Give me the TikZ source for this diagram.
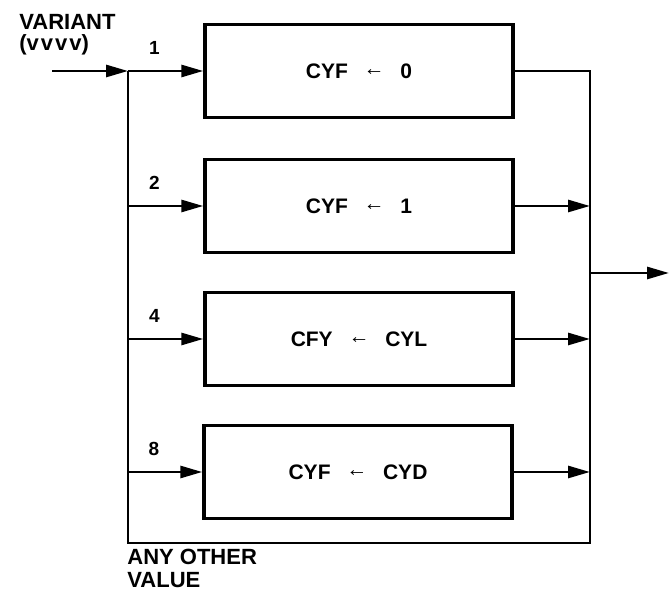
\documentclass[tikz,border=0pt]{standalone}
\usepackage{fontspec}
\setmainfont{Liberation Sans}
\usetikzlibrary{arrows.meta}
\newcommand{\cyGets}{\hspace{0.75em}\raisebox{0.12em}{←}\hspace{0.75em}}
\begin{document}
\begin{tikzpicture}[
    x=0.5pt,y=-0.5pt,
    cyBox/.style={rectangle,draw=black,line width=1.7pt,minimum width=154pt,minimum height=46.5pt,inner sep=0pt,font=\bfseries\fontsize{10.5}{12}\selectfont},
    cyLine/.style={line width=1.4pt},
    cyArr/.style={line width=1.4pt,-{Triangle[length=11pt,width=6pt]}},
    cyLabel/.style={font=\bfseries\fontsize{9.5}{11}\selectfont},
    cyText/.style={font=\bfseries\fontsize{11}{13}\selectfont,anchor=west,inner sep=0pt},
]
\useasboundingbox (0,0) rectangle (670,603);
\node[cyBox] (cyA) at (359,71) {CYF\cyGets 0};
\node[cyBox] (cyB) at (359,206) {CYF\cyGets 1};
\node[cyBox] (cyC) at (359,339) {CFY\cyGets CYL};
\node[cyBox] (cyD) at (358,472) {CYF\cyGets CYD};
% input side
\coordinate (inStart) at (52,71);
\coordinate (busTop) at (128,71);
\coordinate (busB) at (128,206);
\coordinate (busC) at (128,339);
\coordinate (busD) at (128,472);
\coordinate (busBot) at (128,543);
% output side
\coordinate (outTop) at (590,71);
\coordinate (outB) at (590,206);
\coordinate (outC) at (590,339);
\coordinate (outD) at (590,472);
\coordinate (outJ) at (590,273);
\coordinate (outBot) at (590,543);
\coordinate (outEnd) at (669,273);
\draw[cyArr] (inStart) -- (busTop);
\draw[cyArr] (busTop) -- (cyA.west) node[pos=0.35,above=4pt,cyLabel] {1};
\draw[cyArr] (busB) -- (cyB.west) node[pos=0.35,above=4pt,cyLabel] {2};
\draw[cyArr] (busC) -- (cyC.west) node[pos=0.35,above=4pt,cyLabel] {4};
\draw[cyArr] (busD) -- (cyD.west) node[pos=0.35,above=4pt,cyLabel] {8};
\draw[cyLine] (busTop) -- (busBot) -- (outBot) -- (outTop) -- (cyA.east);
\draw[cyArr] (cyB.east) -- (outB);
\draw[cyArr] (cyC.east) -- (outC);
\draw[cyArr] (cyD.east) -- (outD);
\draw[cyArr] (outJ) -- (outEnd);
\node[cyText] (varName) at (19,22) {VARIANT};
\node[cyText] (varCode) at (19,45) {(v\hspace{1pt}v\hspace{1pt}v\hspace{1pt}v)};
\node[cyText] (otherA) at (127,557) {ANY OTHER};
\node[cyText] (otherB) at (127,580) {VALUE};
\end{tikzpicture}
\end{document}
